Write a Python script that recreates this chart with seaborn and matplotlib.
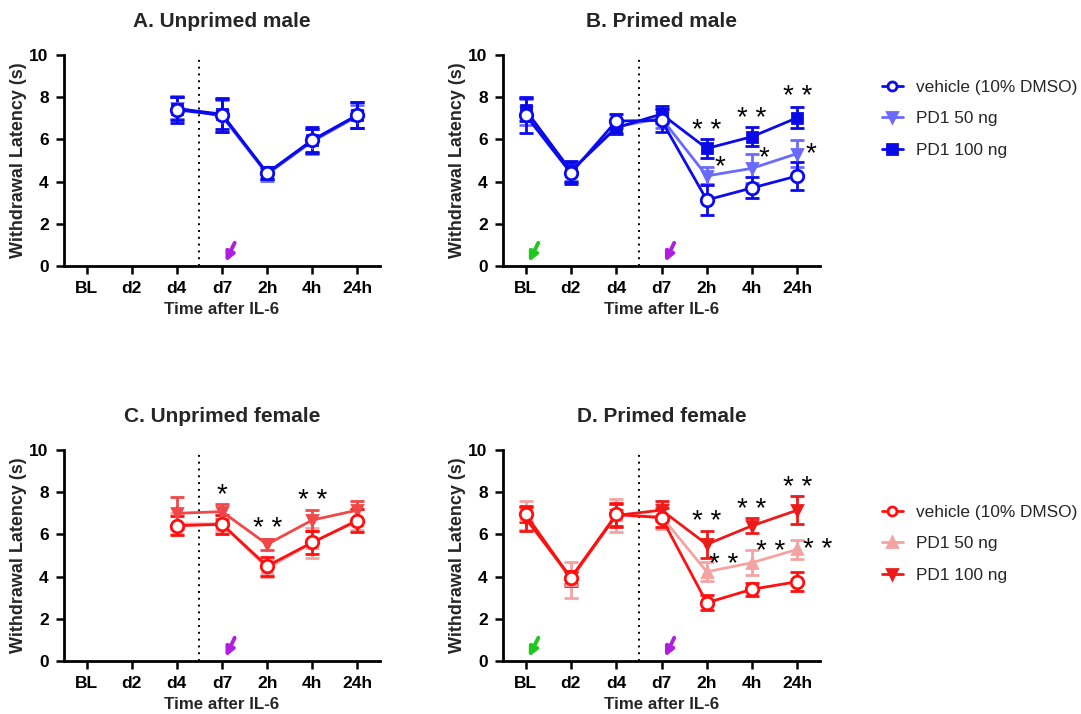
import numpy as np
import pandas as pd
import matplotlib
matplotlib.use("Agg")
import matplotlib.pyplot as plt
import seaborn as sns

sns.set_theme(style="white")
plt.rcParams['font.family'] = ['Liberation Sans', 'DejaVu Sans']

timepoints = ["BL", "d2", "d4", "d7", "2h", "4h", "24h"]
series_names = ["vehicle (10% DMSO)", "PD1 50 ng", "PD1 100 ng"]

# Panel A: Unprimed male (from d4)
A_veh = [np.nan, np.nan, 7.40, 7.15, 4.40, 5.97, 7.15]
A_veh_err = [np.nan, np.nan, 0.60, 0.80, 0.30, 0.60, 0.60]
A_50 = [np.nan, np.nan, 7.50, 7.10, 4.35, 5.90, 7.10]
A_50_err = [np.nan, np.nan, 0.55, 0.75, 0.30, 0.60, 0.55]
A_100 = [np.nan, np.nan, 7.45, 7.20, 4.40, 5.95, 7.15]
A_100_err = [np.nan, np.nan, 0.55, 0.70, 0.30, 0.55, 0.60]

# Panel B: Primed male
B_veh = [7.15, 4.40, 6.87, 6.90, 3.13, 3.70, 4.27]
B_veh_err = [0.85, 0.50, 0.35, 0.55, 0.70, 0.50, 0.65]
B_50 = [7.30, 4.50, 6.60, 7.00, 4.27, 4.63, 5.33]
B_50_err = [0.60, 0.45, 0.30, 0.45, 0.40, 0.70, 0.65]
B_100 = [7.40, 4.50, 6.55, 7.20, 5.57, 6.13, 7.03]
B_100_err = [0.55, 0.50, 0.30, 0.40, 0.45, 0.45, 0.50]

# Panel C: Unprimed female (from d4)
C_veh = [np.nan, np.nan, 6.41, 6.48, 4.50, 5.62, 6.65]
C_veh_err = [np.nan, np.nan, 0.45, 0.45, 0.45, 0.55, 0.55]
C_50 = [np.nan, np.nan, 6.50, 6.50, 4.40, 5.60, 6.70]
C_50_err = [np.nan, np.nan, 0.50, 0.40, 0.40, 0.70, 0.50]
C_100 = [np.nan, np.nan, 7.00, 7.08, 5.53, 6.68, 7.15]
C_100_err = [np.nan, np.nan, 0.75, 0.35, 0.25, 0.50, 0.45]

# Panel D: Primed female
D_veh = [6.95, 3.92, 6.95, 6.79, 2.76, 3.40, 3.76]
D_veh_err = [0.35, 0.35, 0.55, 0.45, 0.35, 0.30, 0.45]
D_50 = [6.90, 3.85, 6.90, 6.85, 4.23, 4.66, 5.29]
D_50_err = [0.70, 0.85, 0.80, 0.60, 0.45, 0.60, 0.45]
D_100 = [6.75, 3.95, 6.90, 7.15, 5.53, 6.41, 7.15]
D_100_err = [0.60, 0.30, 0.55, 0.45, 0.65, 0.35, 0.65]

# significance marks: (x position, y value, text)
B_stars = [(4, 6.4, "* *"), (5, 6.97, "* *"), (6, 8.0, "* *"),
           (4.29, 4.7, "*"), (5.26, 5.1, "*"), (6.29, 5.3, "*")]
C_stars = [(3, 7.85, "*"), (4, 6.27, "* *"), (5, 7.57, "* *")]
D_stars = [(4, 6.58, "* *"), (5, 7.14, "* *"), (6, 8.2, "* *"),
           (4.37, 4.56, "* *"), (5.41, 5.16, "* *"), (6.44, 5.26, "* *")]

blue_veh, blue_50, blue_100 = "#0b0bf0", "#6a6aff", "#0a0ae6"
red_veh, red_50, red_100 = "#ff1010", "#f4a3a3", "#ee1a1a"

W, H = 1081, 714
fig = plt.figure(figsize=(W / 100, H / 100), dpi=100)

def axrect(l, r, b, t):
    return [l / W, 1 - b / H, (r - l) / W, (b - t) / H]

panels = [
    dict(rect=axrect(64, 380, 266, 55), title="A. Unprimed male",
         data=[(A_50, A_50_err, blue_50, "v", blue_50),
               (A_100, A_100_err, blue_100, "s", blue_100),
               (A_veh, A_veh_err, blue_veh, "o", "white")],
         stars=[], green=False),
    dict(rect=axrect(503, 820, 266, 55), title="B. Primed male",
         data=[(B_50, B_50_err, blue_50, "v", blue_50),
               (B_100, B_100_err, blue_100, "s", blue_100),
               (B_veh, B_veh_err, blue_veh, "o", "white")],
         stars=B_stars, green=True),
    dict(rect=axrect(64, 380, 661, 450), title="C. Unprimed female",
         data=[(C_50, C_50_err, red_50, "^", red_50),
               (C_100, C_100_err, "#f04848", "v", "#f04848"),
               (C_veh, C_veh_err, red_veh, "o", "white")],
         stars=C_stars, green=False),
    dict(rect=axrect(503, 820, 661, 450), title="D. Primed female",
         data=[(D_50, D_50_err, red_50, "^", red_50),
               (D_100, D_100_err, red_100, "v", red_100),
               (D_veh, D_veh_err, red_veh, "o", "white")],
         stars=D_stars, green=True),
]

xidx = np.arange(len(timepoints))
arrow_kw = dict(arrowstyle="-|>", lw=2.8, mutation_scale=13, shrinkA=0, shrinkB=0)

for p in panels:
    ax = fig.add_axes(p["rect"])
    for vals, errs, col, mk, mfc in p["data"]:
        df = pd.DataFrame({"x": xidx, "y": vals, "e": errs}).dropna()
        ax.errorbar(df["x"], df["y"], yerr=df["e"], fmt="none", ecolor=col,
                    elinewidth=2, capsize=5, capthick=2, zorder=2)
        sns.lineplot(data=df, x="x", y="y", ax=ax, color=col, marker=mk,
                     markersize=9 if mk == "o" else 7.5, markerfacecolor=mfc,
                     markeredgecolor=col, markeredgewidth=2, linewidth=2,
                     errorbar=None, zorder=3, clip_on=False)
    ax.axvline(2.5, ymin=0, ymax=1, color="black", ls=(0, (1, 2.5)), lw=1.4)
    ax.set_xlim(-0.5, 6.5)
    ax.set_ylim(0, 10)
    ax.set_xticks(xidx)
    ax.set_xticklabels(timepoints, fontweight="bold", fontsize=12.5)
    ax.set_yticks([0, 2, 4, 6, 8, 10])
    ax.set_yticklabels(["0", "2", "4", "6", "8", "10"], fontweight="bold", fontsize=12.5)
    ax.tick_params(axis="both", direction="out", length=6, width=1.8, pad=5,
                   bottom=True, left=True, color="black", labelcolor="black")
    for s in ["top", "right"]:
        ax.spines[s].set_visible(False)
    for s in ["left", "bottom"]:
        ax.spines[s].set_linewidth(2)
        ax.spines[s].set_color("black")
    ax.set_xlabel("Time after IL-6", fontweight="bold", fontsize=12.2, labelpad=4)
    ax.set_ylabel("Withdrawal Latency (s)", fontweight="bold", fontsize=13, labelpad=2)
    ax.set_title(p["title"], fontweight="bold", fontsize=15, pad=20)
    for x, y, t in p["stars"]:
        ax.text(x, y, t, ha="center", va="center", fontsize=20, color="black")
    # arrows
    ax.annotate("", xy=(3.08, 0.2), xytext=(3.28, 1.1),
                arrowprops=dict(color="#b01ee0", **arrow_kw))
    if p["green"]:
        ax.annotate("", xy=(0.07, 0.2), xytext=(0.28, 1.1),
                    arrowprops=dict(color="#1ec81e", **arrow_kw))

from matplotlib.lines import Line2D

def make_handles(cols, mks, mfcs):
    hs = []
    for c, m, f in zip(cols, mks, mfcs):
        hs.append(Line2D([0], [0], color=c, marker=m, markerfacecolor=f,
                         markeredgecolor=c, markeredgewidth=2, lw=2,
                         markersize=6.5))
    return hs

h1 = make_handles([blue_veh, blue_50, blue_100], ["o", "v", "s"],
                  ["white", blue_50, blue_100])
h2 = make_handles([red_veh, red_50, red_100], ["o", "^", "v"],
                  ["white", red_50, red_100])
leg_kw = dict(loc="upper left", frameon=False, fontsize=12.4, handlelength=1.2,
              handletextpad=0.8, labelspacing=0.95, borderpad=0, borderaxespad=0)
fig.legend(h1, series_names, bbox_to_anchor=(882 / W, 1 - 80 / H), **leg_kw)
fig.legend(h2, series_names, bbox_to_anchor=(882 / W, 1 - 505 / H), **leg_kw)

fig.savefig("out.png", dpi=100)
